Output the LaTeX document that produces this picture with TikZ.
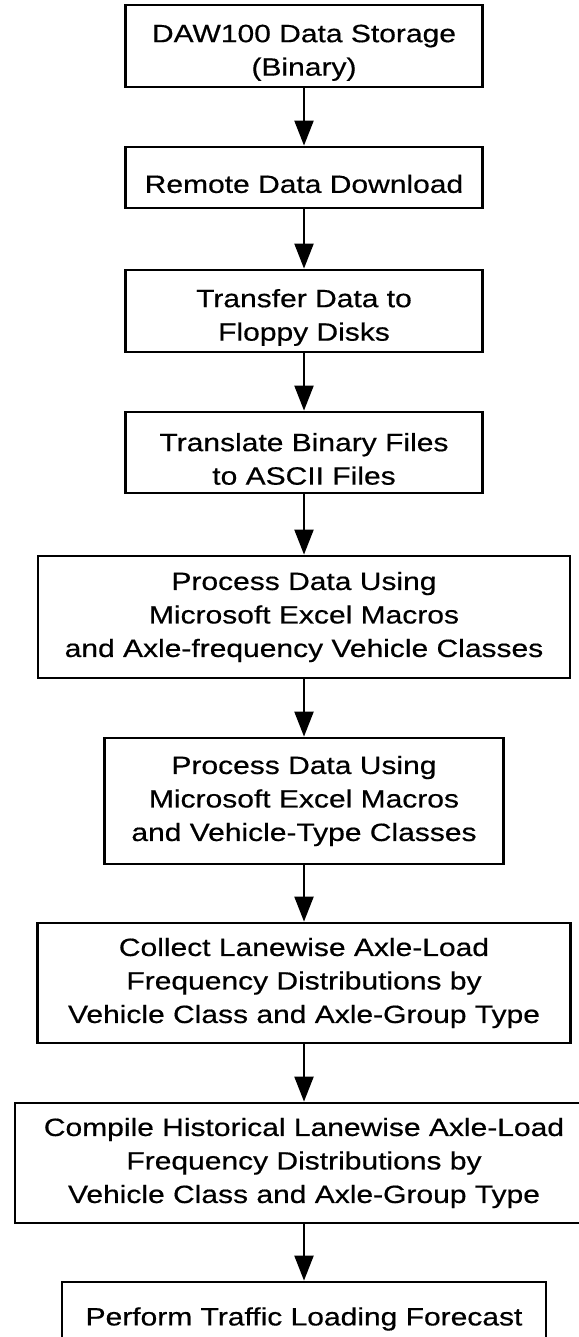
\documentclass[tikz,border=0pt]{standalone}
\usepackage{fontspec}
\setmainfont[FakeStretch=1.2,FakeBold=0.5]{Liberation Sans}
\usetikzlibrary{arrows.meta}
\newcommand\lowstrut{\rule{0pt}{31pt}}
\begin{document}
\begin{tikzpicture}[x=1pt,y=-1pt,
  stepbox/.style={draw, line width=2.8pt, inner sep=0pt, align=center,
    font=\fontsize{25}{33.5}\selectfont},
  flow/.style={-{Triangle[length=25pt,width=19pt]}, line width=2.2pt}]
\useasboundingbox (0,0) rectangle (578,1337);
\fill[white] (0,0) rectangle (578,1337);
\node[stepbox, minimum width=357pt, minimum height=82pt] (b1) at (304,46) {\lowstrut DAW100 Data Storage\\(Binary)};
\node[stepbox, minimum width=357pt, minimum height=61pt] (b2) at (304,177.5) {\lowstrut Remote Data Download};
\node[stepbox, minimum width=357pt, minimum height=82pt] (b3) at (304,311) {\lowstrut Transfer Data to\\Floppy Disks};
\node[stepbox, minimum width=357pt, minimum height=81pt] (b4) at (304,452.5) {\lowstrut Translate Binary Files\\to ASCII Files};
\node[stepbox, minimum width=532pt, minimum height=122pt] (b5) at (304,617) {Process Data Using\\Microsoft Excel Macros\\and Axle-frequency Vehicle Classes};
\node[stepbox, minimum width=399pt, minimum height=126pt] (b6) at (304,801) {Process Data Using\\Microsoft Excel Macros\\and Vehicle-Type Classes};
\node[stepbox, minimum width=533pt, minimum height=120pt] (b7) at (304,983) {Collect Lanewise Axle-Load\\Frequency Distributions by\\Vehicle Class and Axle-Group Type};
\node[stepbox, minimum width=578pt, minimum height=120pt] (b8) at (304,1163) {Compile Historical Lanewise Axle-Load\\Frequency Distributions by\\Vehicle Class and Axle-Group Type};
\node[stepbox, minimum width=484pt, minimum height=61pt] (b9) at (304,1312.5) {\lowstrut Perform Traffic Loading Forecast};
\foreach \a/\b in {b1/b2,b2/b3,b3/b4,b4/b5,b5/b6,b6/b7,b7/b8,b8/b9}
  \draw[flow] (\a.south) -- (\b.north);
\end{tikzpicture}
\end{document}
